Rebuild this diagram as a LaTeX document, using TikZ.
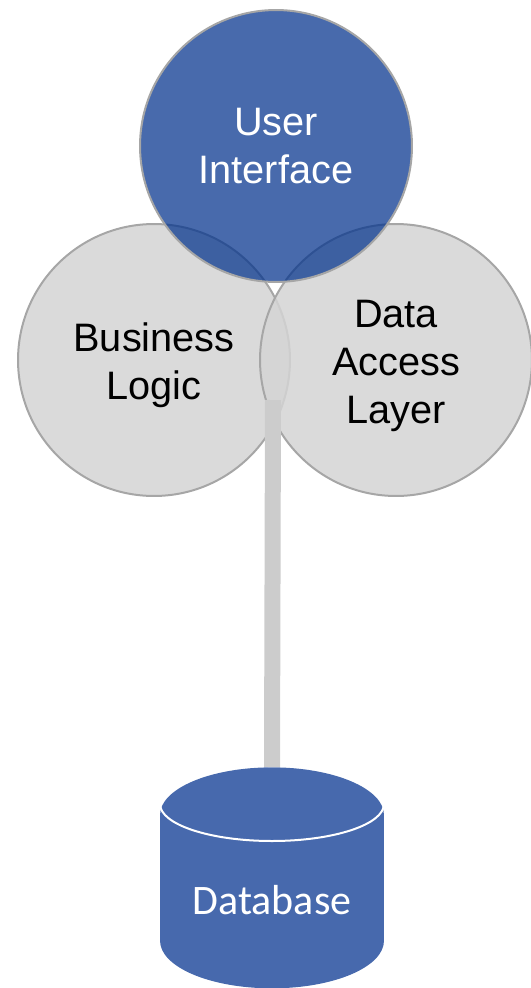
\documentclass[tikz,border=0pt]{standalone}
\usepackage{fontspec}
\setmainfont{Liberation Sans}
\newfontfamily\dbfont{Carlito}
\usetikzlibrary{shapes.geometric,positioning}
\definecolor{uiblue}{HTML}{4769AD}
\definecolor{uideep}{HTML}{01318C}
\definecolor{tierrim}{HTML}{A6A6A6}
\definecolor{tiergrey}{HTML}{D4D4D4}
\definecolor{linkgrey}{HTML}{CCCCCC}
\tikzstyle{tier} = [circle,draw=tierrim,line width=0.04cm,minimum size=5.44cm,inner sep=0pt,
  align=center,text=black,font=\fontsize{22.6pt}{27.2pt}\selectfont,
  fill=tiergrey,fill opacity=0.85,text opacity=1]
\tikzstyle{uitier} = [tier,fill=uideep,fill opacity=0.72,text=white]
\tikzstyle{link} = [linkgrey,line width=0.32cm]
\tikzstyle{store} = [cylinder,shape border rotate=90,aspect=0.6,draw=none,fill=uiblue,
  minimum width=4.48cm,minimum height=4.42cm,inner sep=0pt,text=white,text depth=2.4pt,
  font=\dbfont\fontsize{23.9pt}{26pt}\selectfont]

\begin{document}
\begin{tikzpicture}[x=0.02cm,y=-0.02cm]
\useasboundingbox (0,0) rectangle (531,988);

\node [tier] (logic) at (154,360) {\rule{0pt}{22pt}Business\\Logic};
\node [tier] (access) at (396,360) {\rule{0pt}{22pt}Data\\Access\\Layer};
\node [uitier] (ui) at (276,146) {User\\Interface};

\coordinate (linktop) at (273,400);
\node [store,anchor=north] (db) at (272,767) {Database};
\draw [link] (linktop) -- (db.north);
\draw [white,line width=0.04cm] (160,804) arc [start angle=180,end angle=0,x radius=112,y radius=37];
\end{tikzpicture}
\end{document}
